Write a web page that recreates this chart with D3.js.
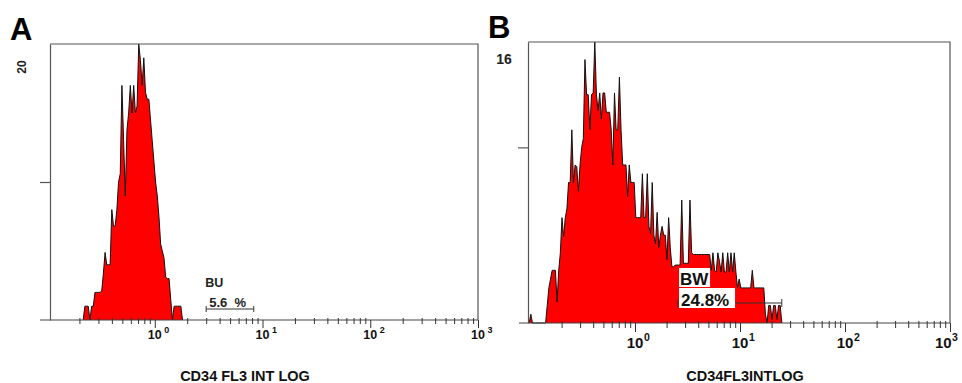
<!DOCTYPE html>
<html>
<head>
<meta charset="utf-8">
<script src="https://cdn.jsdelivr.net/npm/d3@7"></script>
<style>
  body { margin: 0; background: #fff; }
  svg { display: block; font-family: "Liberation Sans", Arial, sans-serif; }
</style>
</head>
<body>
<svg id="chart" width="962" height="383"></svg>
<script>
// channel data: 64 channels per decade, channel 0 starts at 10^-1
const channelsPerDecade = 64;
const logDomain = [0.1, 1000];
const majorTicks = [1, 10, 100, 1000];
const majorExponents = ['0', '1', '2', '3'];

// panel A (CD34 FL3 INT LOG)
const histAStart = 22;
const histA = [1, 1, 1, 0, 1, 1, 2, 2, 2, 2, 2.1, 3.4, 4.9, 4, 4, 4, 8, 6.8, 6.8, 8,
  10, 10.6, 17, 13, 9, 13.8, 15, 17, 15, 17, 15, 15.5, 20, 18.8, 17, 19, 16.5, 16, 16, 14.5,
  13, 11.5, 10, 9, 7.5, 5.5, 5, 4.5, 3.1, 3, 3, 1.5, 0, 1, 1, 1, 1, 1];

// panel B (CD34FL3INTLOG)
const histBStart = 0;
const histB = [0.5, 0, 0, 0, 0, 0, 0, 0, 0, 0,
  1, 2, 2.5, 3, 3, 3, 1.2, 3, 4, 6, 4.9, 6, 6.5, 8, 8, 11, 8, 9, 8.9, 7.5,
  9, 10, 10.5, 15, 13, 13, 11, 13, 13.1, 16, 13, 12.1, 13.1, 11.6, 13.1, 13.1, 12, 12, 12, 11,
  9, 13.1, 11, 11, 14, 11, 9, 9, 9, 7.2, 9, 8, 8, 8, 6, 6, 6, 6, 8.5, 6,
  6, 8.5, 5.5, 5.1, 8, 5, 4.5, 6.3, 4.3, 5, 5.5, 5, 5, 3.6, 6, 4.3, 3.2, 3.2, 3.3, 3.3,
  3.3, 3.3, 7, 3.4, 3.4, 3.4, 3.4, 7, 4, 3.9, 3.9, 3.9, 3.9, 3.9, 3.9, 3.9, 3.9, 3.9, 3.9,
  3.9, 3, 4, 3, 2.9, 4, 3.5, 2.9, 4, 2.9, 2.9, 4, 2.9, 4, 2.9, 4, 2.9, 2, 2.5, 2,
  2, 2, 2, 2, 2, 2, 3, 2, 2, 2, 2, 2, 2, 2, 0.5, 0, 1, 1, 0.2, 1,
  1, 0.2, 1, 1];

const panelLetters = ['A', 'B'];
const yMaxValues = [20, 16];
const yMidTick = 10;
const xTitles = ['CD34 FL3 INT LOG', 'CD34FL3INTLOG'];
const gateNames = ['BU', 'BW'];
const gatePercents = ['5.6 %', '24.8%'];
const gateRanges = [[3, 8.3], [2.57, 25]];

const svg = d3.select('#chart');

function channelValue(i) {
  return logDomain[0] * Math.pow(10, (i + 0.5) / channelsPerDecade);
}

function minorTicks() {
  const t = [];
  for (let k = -1; k <= 2; k++) {
    for (let m = 2; m <= 9; m++) t.push(m * Math.pow(10, k));
  }
  return t;
}

function drawPanel(idx, start, counts, lay) {
  const g = svg.append('g');

  const x = d3.scaleLog().domain(logDomain).range([lay.x0, lay.x1]);
  const y = d3.scaleLinear().domain([0, yMaxValues[idx]]).range([lay.bottom, lay.top]);

  // histogram
  const pts = counts.map((c, k) => [channelValue(start + k), c]);
  pts.unshift([channelValue(start - 1), 0]);
  pts.push([channelValue(start + counts.length), 0]);

  g.append('path')
    .datum(pts)
    .attr('fill', '#ff0000')
    .attr('d', d3.area()
      .x(d => x(d[0]))
      .y0(y(0))
      .y1(d => y(d[1])));

  g.append('path')
    .datum(pts)
    .attr('fill', 'none')
    .attr('stroke', '#111')
    .attr('stroke-width', 1)
    .attr('d', d3.line()
      .x(d => x(d[0]))
      .y(d => y(d[1])));

  // frame
  g.append('path')
    .attr('fill', 'none')
    .attr('stroke', '#555')
    .attr('stroke-width', 1.2)
    .attr('d', `M${lay.boxL},${lay.top}H${lay.x1}V${lay.bottom}`);

  g.append('line')
    .attr('x1', lay.axisL).attr('x2', lay.x1)
    .attr('y1', lay.bottom).attr('y2', lay.bottom)
    .attr('stroke', '#444')
    .attr('stroke-width', 1.2);

  // y axis
  g.append('g')
    .attr('transform', `translate(${lay.boxL},0)`)
    .call(d3.axisLeft(y).tickValues([yMidTick]).tickSize(10).tickSizeOuter(0).tickFormat(''))
    .call(a => a.selectAll('path, line').attr('stroke', '#555').attr('stroke-width', 1.2));

  // x axis: minor + major ticks
  g.append('g')
    .attr('transform', `translate(0,${lay.bottom})`)
    .call(d3.axisBottom(x).tickValues(minorTicks()).tickSize(lay.minorLen).tickFormat(''))
    .call(a => a.select('.domain').remove())
    .call(a => a.selectAll('.tick line').attr('y1', -2).attr('stroke', '#333'));

  g.append('g')
    .attr('transform', `translate(0,${lay.bottom})`)
    .call(d3.axisBottom(x).tickValues(majorTicks).tickSize(lay.majorLen).tickFormat(''))
    .call(a => a.select('.domain').remove())
    .call(a => a.selectAll('.tick line').attr('stroke', '#333'));

  // tick labels 10^n
  majorTicks.forEach((v, k) => {
    // keep the last label inside the page edge
    const tx = Math.min(x(v), 958 - lay.labelSize * 0.56 - lay.expGap - lay.expSize * 0.56);
    g.append('text')
      .attr('x', tx).attr('y', lay.labelY)
      .attr('text-anchor', 'middle')
      .attr('font-weight', 'bold')
      .attr('font-size', lay.labelSize)
      .attr('fill', '#111')
      .text('10');
    g.append('text')
      .attr('x', tx + lay.labelSize * 0.56 + lay.expGap).attr('y', lay.labelY - lay.expRise)
      .attr('font-weight', 'bold')
      .attr('font-size', lay.expSize)
      .attr('fill', '#111')
      .text(majorExponents[k]);
  });

  // axis title
  g.append('text')
    .attr('x', lay.titleX).attr('y', 381)
    .attr('text-anchor', 'middle')
    .attr('font-weight', 'bold')
    .attr('font-size', 14.5)
    .attr('fill', '#111')
    .text(xTitles[idx]);

  // panel letter
  g.append('text')
    .attr('x', lay.letterX).attr('y', lay.letterY)
    .attr('font-weight', 'bold')
    .attr('font-size', 31)
    .attr('fill', '#000')
    .text(panelLetters[idx]);

  return { g, x, y };
}

// ---- panel A
const A = drawPanel(0, histAStart, histA, {
  x0: 47, x1: 478, boxL: 50, axisL: 40, top: 44, bottom: 320,
  minorLen: 4, majorLen: 8, labelY: 339, labelSize: 12.5, expSize: 9, expGap: 2.5, expRise: 6,
  titleX: 245, letterX: 10, letterY: 40
});

A.g.append('text')
  .attr('transform', 'translate(26,67) rotate(-90)')
  .attr('text-anchor', 'middle')
  .attr('font-weight', 'bold')
  .attr('font-size', 12)
  .attr('fill', '#222')
  .text(yMaxValues[0]);

{
  const [lo, hi] = gateRanges[0];
  const gy = 309;
  A.g.append('path')
    .attr('fill', 'none')
    .attr('stroke', '#333')
    .attr('stroke-width', 1)
    .attr('d', `M${A.x(lo)},${gy - 3}V${gy + 3}M${A.x(lo)},${gy}H${A.x(hi)}M${A.x(hi)},${gy - 3}V${gy + 3}`);
  A.g.append('text')
    .attr('x', A.x(lo) - 1).attr('y', 287)
    .attr('font-weight', 'bold').attr('font-size', 12.5).attr('fill', '#222')
    .text(gateNames[0]);
  A.g.append('text')
    .attr('x', A.x(lo) + 3).attr('y', 307)
    .attr('font-weight', 'bold').attr('font-size', 13).attr('fill', '#222')
    .text(gatePercents[0].replace(' ', '\u00a0\u00a0'));
}

// ---- panel B
const B = drawPanel(1, histBStart, histB, {
  x0: 530, x1: 950, boxL: 528, axisL: 519, top: 42, bottom: 323,
  minorLen: 5, majorLen: 9, labelY: 348, labelSize: 15, expSize: 10.5, expGap: 0.5, expRise: 7,
  titleX: 745, letterX: 488, letterY: 38
});

B.g.append('text')
  .attr('x', 504).attr('y', 64)
  .attr('text-anchor', 'middle')
  .attr('font-weight', 'bold')
  .attr('font-size', 14)
  .attr('fill', '#222')
  .text(yMaxValues[1]);

{
  const [lo, hi] = gateRanges[1];
  const gy = 303;
  const xl = B.x(lo), xh = B.x(hi);
  B.g.append('path')
    .attr('fill', 'none')
    .attr('stroke', '#333')
    .attr('stroke-width', 1)
    .attr('d', `M${xl},${gy - 4}V${gy + 4}M${xl},${gy}H${xh}M${xh},${gy - 4}V${gy + 4}`);
  B.g.append('rect')
    .attr('x', xl + 1).attr('y', 268).attr('width', 31).attr('height', 19)
    .attr('fill', '#fff');
  B.g.append('text')
    .attr('x', xl + 2).attr('y', 285)
    .attr('font-weight', 'bold').attr('font-size', 17).attr('fill', '#111')
    .text(gateNames[1]);
  B.g.append('rect')
    .attr('x', xl + 1).attr('y', 288).attr('width', 56).attr('height', 20)
    .attr('fill', '#fff');
  B.g.append('text')
    .attr('x', xl + 3).attr('y', 306)
    .attr('font-weight', 'bold').attr('font-size', 17).attr('fill', '#111')
    .text(gatePercents[1]);
}
</script>
</body>
</html>
